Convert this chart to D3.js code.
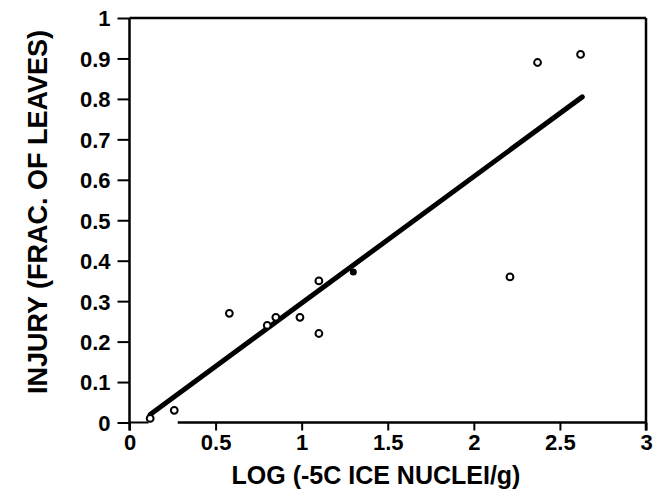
<!DOCTYPE html>
<html>
<head>
<meta charset="utf-8">
<script src="https://cdn.jsdelivr.net/npm/d3@7"></script>
<style>
  body { margin: 0; background: #fff; }
  text { font-family: "Liberation Sans", Arial, sans-serif; font-weight: bold; fill: #000; }
</style>
</head>
<body>
<div id="chart"></div>
<script>
// observed points (open circles)
var ptX = [0.12, 0.26, 0.58, 0.80, 0.85, 0.99, 1.10, 1.10, 2.21, 2.37, 2.62];
var ptY = [0.01, 0.03, 0.27, 0.24, 0.26, 0.26, 0.35, 0.22, 0.36, 0.89, 0.91];
// point hidden under the fit line
var dotX = [1.30];
var dotY = [0.372];
// fitted line
var fitX = [0.12, 2.63];
var fitY = [0.02, 0.805];
var baseX = [0, 0.11];
var baseY = [0, 0];
var xTicks = [0, 0.5, 1, 1.5, 2, 2.5, 3];
var yTicks = [0, 0.1, 0.2, 0.3, 0.4, 0.5, 0.6, 0.7, 0.8, 0.9, 1];
var xBreak = 0.28; // bottom axis line starts here

var width = 655, height = 492;
var svg = d3.select('#chart').append('svg').attr('width', width).attr('height', height);

var x = d3.scaleLinear().domain([0, 3]).range([129.5, 646]);
var y = d3.scaleLinear().domain([0, 1]).range([422.5, 18]);

// y axis ticks + labels
var yAxis = svg.append('g').attr('transform', 'translate(' + x(0) + ',0)')
    .call(d3.axisLeft(y).tickValues(yTicks).tickSize(12).tickPadding(7).tickFormat(d3.format('')));
yAxis.select('.domain').remove();
yAxis.selectAll('line').attr('stroke', '#000').attr('stroke-width', 2);
yAxis.selectAll('text').attr('font-size', 22).attr('dy', '0.36em');

// x axis ticks + labels
var xAxis = svg.append('g').attr('transform', 'translate(0,' + y(0) + ')')
    .call(d3.axisBottom(x).tickValues(xTicks).tickSize(8).tickPadding(4).tickFormat(d3.format('')));
xAxis.select('.domain').remove();
xAxis.selectAll('line').attr('stroke', '#000').attr('stroke-width', 2);
xAxis.selectAll('text').attr('font-size', 22).attr('dy', '0.7em');

// frame
var frame = svg.append('g').attr('stroke', '#000').attr('stroke-width', 2.5).attr('fill', 'none');
frame.append('line').attr('x1', x(0)).attr('x2', x(0)).attr('y1', y(1)).attr('y2', y(0) + 8);
frame.append('line').attr('x1', x(0)).attr('x2', x(3)).attr('y1', y(1)).attr('y2', y(1));
frame.append('line').attr('x1', x(3)).attr('x2', x(3)).attr('y1', y(1)).attr('y2', y(0) + 8);
frame.append('line').attr('x1', x(xBreak)).attr('x2', x(3)).attr('y1', y(0)).attr('y2', y(0));

// fit line
var line = d3.line().x(function(d) { return x(d[0]); }).y(function(d) { return y(d[1]); });
svg.append('path').datum(d3.zip(baseX, baseY)).attr('d', line)
    .attr('stroke', '#000').attr('stroke-width', 2).attr('fill', 'none');
svg.append('path').datum(d3.zip(fitX, fitY)).attr('d', line)
    .attr('stroke', '#000').attr('stroke-width', 5).attr('fill', 'none').attr('stroke-linecap', 'round');

// points
svg.selectAll('circle.pt').data(d3.zip(ptX, ptY)).enter().append('circle')
    .attr('class', 'pt')
    .attr('cx', function(d) { return x(d[0]); })
    .attr('cy', function(d) { return y(d[1]); })
    .attr('r', 3.4)
    .attr('fill', '#fff').attr('stroke', '#000').attr('stroke-width', 2);
svg.selectAll('circle.dot').data(d3.zip(dotX, dotY)).enter().append('circle')
    .attr('class', 'dot')
    .attr('cx', function(d) { return x(d[0]); })
    .attr('cy', function(d) { return y(d[1]); })
    .attr('r', 3.5).attr('fill', '#000');

// axis titles
svg.append('text').attr('x', 376).attr('y', 484).attr('text-anchor', 'middle')
    .attr('font-size', 25).text('LOG (-5C ICE NUCLEI/g)');
svg.append('text').attr('transform', 'translate(47,212) rotate(-90)').attr('text-anchor', 'middle')
    .attr('font-size', 27).text('INJURY (FRAC. OF LEAVES)');
</script>
</body>
</html>
